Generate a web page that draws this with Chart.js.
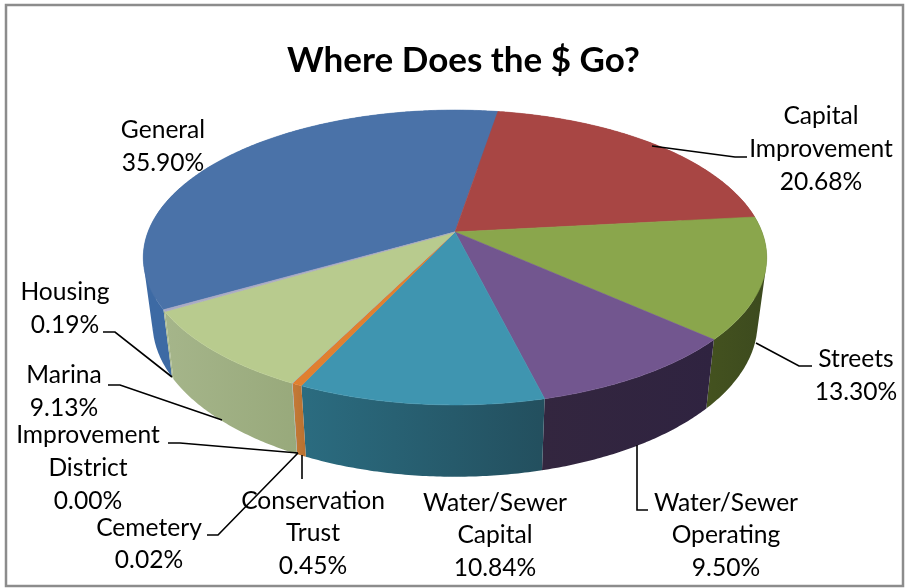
<!DOCTYPE html>
<html>
<head>
<meta charset="utf-8">
<title>Where Does the $ Go?</title>
<script src="https://cdn.jsdelivr.net/npm/chart.js@4"></script>
<style>
    html, body { margin: 0; padding: 0; background: #fff; }
    canvas { display: block; }
</style>
</head>
<body>
<canvas id="chart" width="907" height="588"></canvas>
<script>
// Data
const categories = ['General', 'Capital Improvement', 'Streets', 'Water/Sewer Operating', 'Water/Sewer Capital',
    'Conservation Trust', 'Cemetery', 'Improvement District', 'Marina', 'Housing'];
const shares = [35.90, 20.68, 13.30, 9.50, 10.84, 0.45, 0.02, 0.00, 9.13, 0.19];

// Excel palette: top face, then wall from left to right
const topColors = ['#4a72a8', '#a84644', '#8aa64c', '#72568f', '#3f95b0', '#e08030', '#93a9cf', '#d19392', '#b8cb8e', '#a9aac4'];
const wallLeft = ['#3d6aa4', '#8a3a38', '#44521f', '#33263f', '#2b6c80', '#c47a38', '#7a90b0', '#b07a7a', '#a5b58a', '#a5b58a'];
const wallRight = ['#3d6aa4', '#8a3a38', '#3c4a1e', '#2f2340', '#234f5e', '#b8702f', '#7a90b0', '#b07a7a', '#98a97b', '#a5b58a'];

// Projection of the pie disc (perspective view from above), top face and bottom rim
const view = { cx: 455, cy: 232, a: 307, b: 143, k: 0.173, depth: 64, lowerA: 298, lowerB: 149.5 };

function project(angle, lower) {
    const c = Math.cos(angle), s = Math.sin(angle);
    const d = 1 - view.k * s;
    return {
        x: view.cx + (lower ? view.lowerA : view.a) * c / d,
        y: view.cy + (lower ? view.depth : 0) + (lower ? view.lowerB : view.b) * s / d
    };
}

function arcAngles(start, end) {
    const n = Math.max(2, Math.ceil(Math.abs(end - start) / 0.01));
    const out = [];
    for (let i = 0; i <= n; i++) out.push(start + (end - start) * i / n);
    return out;
}

// always the same winding, otherwise overlapping triangles cancel out in one path
function addTriangle(ctx, p, q, r) {
    const area = (q.x - p.x) * (r.y - p.y) - (r.x - p.x) * (q.y - p.y);
    const second = area < 0 ? r : q;
    const third = area < 0 ? q : r;
    ctx.moveTo(p.x, p.y);
    ctx.lineTo(second.x, second.y);
    ctx.lineTo(third.x, third.y);
    ctx.closePath();
}

// Label text lines and leader lines
const labelLayout = [
    { lines: ['General'], x: 163, y: 130, lineGap: 33 },
    { lines: ['Capital', 'Improvement'], x: 821, y: 116, lineGap: 33, leader: [[652, 146], [735, 157], [747, 157]] },
    { lines: ['Streets'], x: 856, y: 359, lineGap: 33, leader: [[756, 343], [799, 366], [812, 366]] },
    { lines: ['Water/Sewer', 'Operating'], x: 726, y: 503, lineGap: 32.5, leader: [[637, 445], [637, 510], [648, 510]] },
    { lines: ['Water/Sewer', 'Capital'], x: 495, y: 503, lineGap: 32.5 },
    { lines: ['Conservation', 'Trust'], x: 313, y: 501, lineGap: 32.5, leader: [[302, 455], [302, 479]] },
    { lines: ['Cemetery'], x: 149, y: 528, lineGap: 32, leader: [[207, 535], [218, 535], [298, 453]] },
    { lines: ['Improvement', 'District'], x: 88, y: 435, lineGap: 33, leader: [[168, 443], [180, 443], [298, 453]] },
    { lines: ['Marina'], x: 64, y: 375, lineGap: 33, leader: [[108, 385], [120, 385], [222, 420]] },
    { lines: ['Housing'], x: 65, y: 292, lineGap: 33, leader: [[103, 332], [115, 332], [172, 377]] }
];

const pie3d = {
    id: 'pie3d',
    beforeDraw(chart) {
        const ctx = chart.ctx;
        ctx.save();
        ctx.fillStyle = '#fff';
        ctx.fillRect(0, 0, chart.width, chart.height);
        ctx.strokeStyle = '#8c8c8c';
        ctx.lineWidth = 2.5;
        ctx.strokeRect(6, 5, 897, 581);
        ctx.restore();
    },
    // the arcs are laid out by Chart.js, we only paint them tilted
    beforeDatasetsDraw(chart) {
        const ctx = chart.ctx;
        const arcs = chart.getDatasetMeta(0).data;
        ctx.save();

        // walls first, small triangles in one path so the silhouette gets filled too
        arcs.forEach((arc, i) => {
            if (arc.endAngle - arc.startAngle <= 0) return;
            const angles = arcAngles(arc.startAngle, arc.endAngle);
            const xs = angles.map(t => project(t, false).x).concat(angles.map(t => project(t, true).x));
            const grad = ctx.createLinearGradient(Math.min(...xs), 0, Math.max(...xs) + 1, 0);
            grad.addColorStop(0, wallLeft[i]);
            grad.addColorStop(1, wallRight[i]);
            ctx.fillStyle = grad;
            ctx.beginPath();
            for (let j = 0; j < angles.length - 1; j++) {
                const a = project(angles[j], false), b = project(angles[j + 1], false);
                const c = project(angles[j + 1], true), d = project(angles[j], true);
                addTriangle(ctx, a, b, c);
                addTriangle(ctx, a, c, d);
            }
            ctx.fill();
        });

        // then the top face
        arcs.forEach((arc, i) => {
            if (arc.endAngle - arc.startAngle <= 0) return;
            ctx.fillStyle = arc.options.backgroundColor;
            ctx.strokeStyle = arc.options.backgroundColor;
            ctx.lineWidth = 0.6;
            ctx.beginPath();
            ctx.moveTo(view.cx, view.cy);
            arcAngles(arc.startAngle, arc.endAngle).forEach(t => {
                const p = project(t, false);
                ctx.lineTo(p.x, p.y);
            });
            ctx.closePath();
            ctx.fill();
            ctx.stroke();
        });

        ctx.restore();
        return false;
    },
    afterDraw(chart) {
        const ctx = chart.ctx;
        ctx.save();

        // leader lines
        ctx.strokeStyle = '#000';
        ctx.lineWidth = 1.6;
        labelLayout.forEach(l => {
            if (!l.leader) return;
            ctx.beginPath();
            l.leader.forEach((p, j) => j ? ctx.lineTo(p[0], p[1]) : ctx.moveTo(p[0], p[1]));
            ctx.stroke();
        });

        // labels
        ctx.font = '24.6px Lato';
        ctx.fillStyle = '#000';
        ctx.textAlign = 'center';
        ctx.textBaseline = 'middle';
        labelLayout.forEach((l, i) => {
            const rows = l.lines.concat(shares[i].toFixed(2) + '%');
            rows.forEach((t, j) => ctx.fillText(t, l.x, l.y + j * l.lineGap));
        });
        ctx.restore();
    }
};

new Chart(document.getElementById('chart'), {
    type: 'pie',
    data: {
        labels: categories,
        datasets: [{ data: shares, backgroundColor: topColors, borderWidth: 0 }]
    },
    options: {
        responsive: false,
        animation: false,
        rotation: -119.8,
        layout: { padding: { left: 20 } },
        plugins: {
            legend: { display: false },
            tooltip: { enabled: false },
            title: {
                display: true,
                text: 'Where Does the $ Go?',
                color: '#000',
                font: { family: 'Lato', size: 35, weight: 'bold' },
                padding: { top: 40, bottom: 10 }
            }
        }
    },
    plugins: [pie3d]
});
</script>
</body>
</html>
